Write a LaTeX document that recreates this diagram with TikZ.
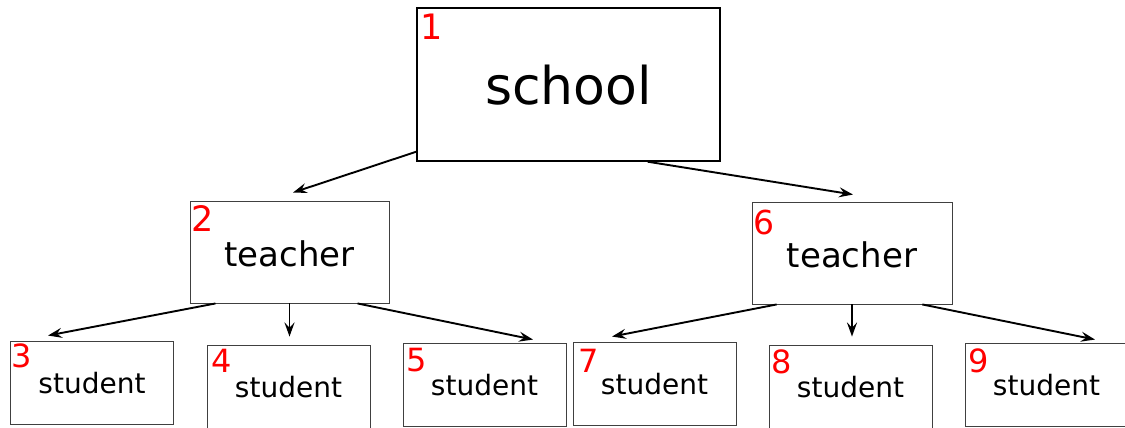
\documentclass[tikz,border=0pt]{standalone}
\usepackage{fontspec}
\setmainfont{DejaVu Sans}
\usetikzlibrary{arrows.meta,calc}

\begin{document}
\begin{tikzpicture}[x=1pt,y=1pt,
        box/.style={draw=black!75, line width=0.9pt, inner sep=0pt, minimum width=163pt, minimum height=83pt, text height=23pt, text depth=0pt, font=\fontsize{28}{34}\selectfont},
        num/.style={text=red, inner sep=0pt, anchor=base west, font=\fontsize{32}{38}\selectfont},
        arr/.style={-{Stealth[length=14pt,width=10pt,inset=5pt]}, line width=1.9pt}]
        \useasboundingbox (0,0) rectangle (1125,428);

        % School
        \node[box, draw=black, line width=1.4pt, minimum width=303pt, minimum height=153pt, text height=41pt, font=\fontsize{52}{60}\selectfont] (school) at (568.5,343.5) {school};

        % Teachers
        \node[box, minimum width=199pt, minimum height=102pt, text height=29pt, font=\fontsize{34}{40}\selectfont] (t2) at (289.5,176) {teacher};
        \node[box, minimum width=200pt, minimum height=102pt, text height=29pt, font=\fontsize{34}{40}\selectfont] (t6) at (852,175) {teacher};

        % Students
        \node[box] (s3) at (92,45.5) {student};
        \node[box] (s4) at (288.5,41.5) {student};
        \node[box] (s5) at (484.5,43.5) {student};
        \node[box] (s7) at (654.5,44.5) {student};
        \node[box] (s8) at (850.5,41.5) {student};
        \node[box] (s9) at (1046.5,43.5) {student};

        % Numbers
        \node[num, font=\fontsize{35}{40}\selectfont] (n1) at ([shift={(4,-32)}]school.north west) {1};
        \node[num, font=\fontsize{35}{40}\selectfont] (n2) at ([shift={(1.5,-31)}]t2.north west) {2};
        \node[num, font=\fontsize{33}{38}\selectfont] (n6) at ([shift={(2,-33)}]t6.north west) {6};
        \node[num] (n3) at ([shift={(1.5,-27)}]s3.north west) {3};
        \node[num] (n4) at ([shift={(4.5,-28)}]s4.north west) {4};
        \node[num] (n5) at ([shift={(3.5,-29)}]s5.north west) {5};
        \node[num] (n7) at ([shift={(5.5,-31)}]s7.north west) {7};
        \node[num] (n8) at ([shift={(2.5,-29)}]s8.north west) {8};
        \node[num] (n9) at ([shift={(3.5,-30)}]s9.north west) {9};

        % Arrows
        \draw[arr] ([yshift=10pt]school.south west) -- ([shift={(3.5,8)}]t2.north);
        \draw[arr] ($(school.south west)!0.76!(school.south east)$) -- ([shift={(1,7)}]t6.north);
        \draw[arr] ($(t2.south west)!0.13!(t2.south east)$) -- ([shift={(-44,5)}]s3.north);
        \draw[arr] (t2.south) -- ([shift={(1,8)}]s4.north);
        \draw[arr] ($(t2.south west)!0.84!(t2.south east)$) -- ([shift={(48.5,3)}]s5.north);
        \draw[arr] ($(t6.south west)!0.125!(t6.south east)$) -- ([shift={(-42.5,5)}]s7.north);
        \draw[arr] (t6.south) -- ([shift={(1.5,8)}]s8.north);
        \draw[arr] ($(t6.south west)!0.85!(t6.south east)$) -- ([shift={(48.5,3)}]s9.north);
    \end{tikzpicture}
\end{document}
